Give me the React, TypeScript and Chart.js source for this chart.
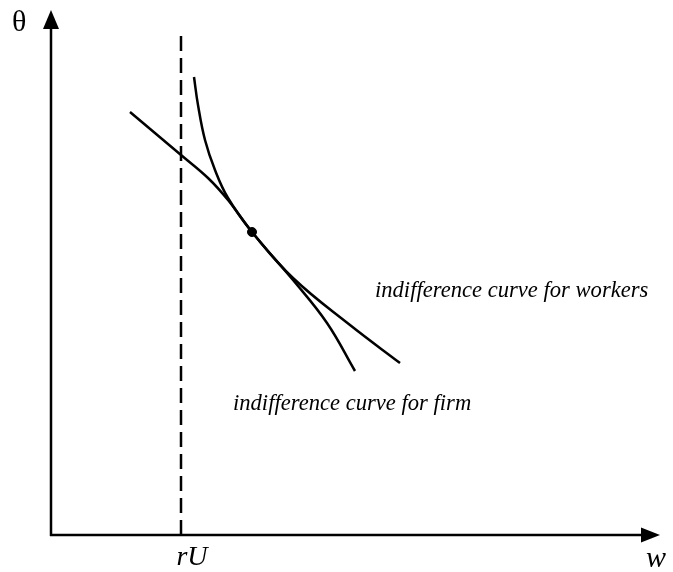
import React, { useEffect, useRef } from "react";
import { Chart, registerables } from "chart.js";

Chart.register(...registerables);

// Axis extents (data units)
const wMax = 609;
const thetaMax = 525;

// Reservation wage rU and top of its dashed guide
const rU = 130;
const rUTop = 503;

// Indifference curve for workers
const workersW = [79, 130, 157, 177, 201, 242, 299, 349];
const workersTheta = [423, 380, 357, 335, 303, 257, 210, 172];

// Indifference curve for firm
const firmW = [143, 147, 154, 164, 177, 201, 242, 276, 304];
const firmTheta = [458, 430, 395, 365, 337, 303, 255, 212, 164];

// Tangency point
const eqW = [201];
const eqTheta = [303];

// Text labels
const yAxisLabel = "θ";
const xAxisLabel = "w";
const rULabel = "rU";
const workersLabel = "indifference curve for workers";
const workersLabelPos = [324, 238];
const firmLabel = "indifference curve for firm";
const firmLabelPos = [182, 125];

const toPts = (xs: number[], ys: number[]) => xs.map((x, i) => ({ x, y: ys[i] }));

const decorPlugin = {
  id: "decor",
  afterDraw(chart: any) {
    const ctx = chart.ctx;
    const xs = chart.scales.x;
    const ys = chart.scales.y;
    const x0 = xs.getPixelForValue(0);
    const y0 = ys.getPixelForValue(0);
    const xEnd = xs.getPixelForValue(wMax);
    const yEnd = ys.getPixelForValue(thetaMax);
    ctx.save();
    ctx.strokeStyle = "#000";
    ctx.fillStyle = "#000";
    ctx.lineWidth = 2.5;
    ctx.lineCap = "butt";
    // y axis
    ctx.beginPath();
    ctx.moveTo(x0, y0 + 1);
    ctx.lineTo(x0, yEnd + 14);
    ctx.stroke();
    ctx.beginPath();
    ctx.moveTo(x0, yEnd);
    ctx.lineTo(x0 - 8, yEnd + 19);
    ctx.lineTo(x0 + 8, yEnd + 19);
    ctx.closePath();
    ctx.fill();
    // x axis
    ctx.beginPath();
    ctx.moveTo(x0 - 1, y0);
    ctx.lineTo(xEnd - 14, y0);
    ctx.stroke();
    ctx.beginPath();
    ctx.moveTo(xEnd, y0);
    ctx.lineTo(xEnd - 19, y0 - 7.5);
    ctx.lineTo(xEnd - 19, y0 + 7.5);
    ctx.closePath();
    ctx.fill();

    // axis labels
    ctx.textBaseline = "alphabetic";
    ctx.textAlign = "left";
    ctx.font = "30px 'Liberation Serif', 'Times New Roman', serif";
    ctx.fillText(yAxisLabel, x0 - 39, yEnd + 21);
    ctx.font = "italic 30px 'Liberation Serif', 'Times New Roman', serif";
    ctx.fillText(xAxisLabel, xEnd - 14, y0 + 32);
    ctx.textAlign = "center";
    ctx.font = "italic 28px 'Liberation Serif', 'Times New Roman', serif";
    ctx.fillText(rULabel, xs.getPixelForValue(rU) + 11, y0 + 30);

    // curve labels
    ctx.textAlign = "left";
    ctx.font = "italic 22.6px 'Liberation Serif', 'Times New Roman', serif";
    ctx.fillText(workersLabel, xs.getPixelForValue(workersLabelPos[0]), ys.getPixelForValue(workersLabelPos[1]));
    ctx.fillText(firmLabel, xs.getPixelForValue(firmLabelPos[0]), ys.getPixelForValue(firmLabelPos[1]));
    ctx.restore();
  },
};

export default function App() {
  const ref = useRef<HTMLCanvasElement | null>(null);
  useEffect(() => {
    document.body.style.margin = "0";
    const canvas = ref.current;
    if (!canvas) return;
    const chart = new Chart(canvas, {
      type: "scatter",
      data: {
        datasets: [
          {
            data: toPts(workersW, workersTheta),
            showLine: true,
            borderColor: "#000",
            borderWidth: 2.5,
            pointRadius: 0,
            tension: 0.4,
          },
          {
            data: toPts(firmW, firmTheta),
            showLine: true,
            borderColor: "#000",
            borderWidth: 2.5,
            pointRadius: 0,
            tension: 0.4,
          },
          {
            data: [
              { x: rU, y: 0 },
              { x: rU, y: rUTop },
            ],
            showLine: true,
            borderColor: "#000",
            borderWidth: 2.5,
            borderDash: [15, 7],
            pointRadius: 0,
            tension: 0,
          },
          {
            data: toPts(eqW, eqTheta),
            showLine: false,
            pointRadius: 4.5,
            pointBackgroundColor: "#000",
            pointBorderColor: "#000",
          },
        ],
      },
      options: {
        animation: false,
        responsive: false,
        devicePixelRatio: 1,
        layout: { padding: { left: 51, top: 10, right: 13, bottom: 37 } },
        plugins: { legend: { display: false }, tooltip: { enabled: false } },
        scales: {
          x: { type: "linear", min: 0, max: wMax, display: false },
          y: { type: "linear", min: 0, max: thetaMax, display: false },
        },
      },
      plugins: [decorPlugin],
    });
    return () => chart.destroy();
  }, []);
  return (
    <div style={{ width: 673, height: 572, background: "#fff" }}>
      <canvas ref={ref} width={673} height={572} style={{ display: "block" }} />
    </div>
  );
}
